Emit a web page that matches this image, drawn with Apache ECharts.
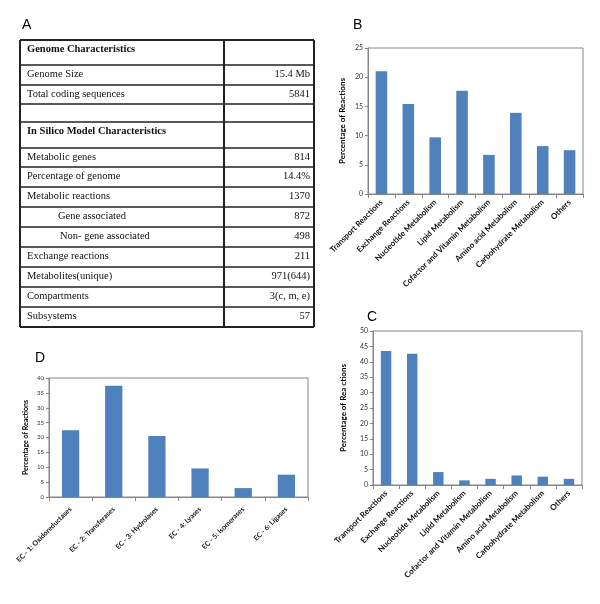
<!DOCTYPE html>
<html><head><meta charset="utf-8">
<script src="https://cdn.jsdelivr.net/npm/echarts@6/dist/echarts.min.js"></script>
<style>html,body{margin:0;padding:0;background:#fff}#c{width:600px;height:604px}</style>
</head><body><div id="c"></div>
<script>
// ---- data ----
const tableLabels = ['Genome Characteristics','Genome Size','Total coding sequences','','In Silico Model Characteristics','Metabolic genes','Percentage of genome','Metabolic reactions','Gene associated','Non- gene associated','Exchange reactions','Metabolites(unique)','Compartments','Subsystems'];
const tableValues = ['','15.4 Mb','5841','','','814','14.4%','1370','872','498','211','971(644)','3(c, m, e)','57'];
const boldRows = [0,4];
const indentRows = [8,9];

const subsysCats = ['Transport Reactions','Exchange Reactions','Nucleotide Metabolism','Lipid Metabolism','Cofactor and Vitamin Metabolism','Amino acid Metabolism','Carbohydrate Metabolism','Others'];
const valuesB = [21.0, 15.4, 9.7, 17.7, 6.7, 13.9, 8.2, 7.5];
const valuesC = [43.5, 42.6, 4.2, 1.5, 2.0, 3.1, 2.7, 2.0];
const ecCats = ['EC - 1: Oxidoreductases','EC - 2: Transferases','EC - 3: Hydrolases','EC - 4: Lyases','EC - 5: Isomerases','EC - 6: Ligases'];
const valuesD = [22.4, 37.4, 20.5, 9.6, 3.0, 7.5];

// ---- layout ----
const rowLines = [40,65,85,104,122,148,167,187,207,227,247,267,287,307,327];
const tL = 20, tR = 314, tMid = 224;
const BLUE = '#4F81BD';
const AX = '#868686';
const FONT = 'Lato, "Open Sans", sans-serif';

const graphics = [];
// panel letters
[['A',22,26],['B',353,26],['C',367,318],['D',35,359]].forEach(([t,x,y])=>{
  graphics.push({type:'text',left:x,top:y-8,style:{text:t,font:'14px "Liberation Sans", Arial, sans-serif',fill:'#000'}});
});
// table rows
for (let i=0;i<tableLabels.length;i++){
  const y0 = rowLines[i];
  const bold = boldRows.includes(i);
  const indent = indentRows.includes(i) ? (i===8?31:33) : 0;
  if (tableLabels[i]) graphics.push({type:'text',x:tL+7+indent,y:y0+9,style:{text:tableLabels[i],font:(bold?'bold ':'')+'10.5px "Liberation Serif", "Times New Roman", serif',fill:'#111',textVerticalAlign:'middle',textAlign:'left'}});
  if (tableValues[i]) graphics.push({type:'text',x:tR-4,y:y0+9,style:{text:tableValues[i],font:'10.5px "Liberation Serif", "Times New Roman", serif',fill:'#111',textVerticalAlign:'middle',textAlign:'right'}});
}
rowLines.forEach((y,i)=>{
  const w = (i===0||i===rowLines.length-1)?2:1.4;
  graphics.push({type:'line',shape:{x1:tL,y1:y,x2:tR,y2:y},style:{stroke:'#222',lineWidth:w}});
});
[tL,tMid,tR].forEach(x=>{
  graphics.push({type:'line',shape:{x1:x,y1:rowLines[0],x2:x,y2:rowLines[rowLines.length-1]},style:{stroke:'#222',lineWidth:2}});
});

function yAx(grid,max,fs,nameGap,nameFs,name){
  return {type:'value',gridIndex:grid,min:0,max:max,interval:5,
    name:name,nameLocation:'middle',nameGap:nameGap,
    nameTextStyle:{fontFamily:FONT,fontWeight:'bold',fontSize:nameFs,color:'#000'},
    axisLine:{show:true,lineStyle:{color:AX}},
    axisTick:{show:true,length:3,lineStyle:{color:AX}},
    axisLabel:{fontFamily:FONT,fontSize:fs,color:'#333',margin:5},
    splitLine:{show:false}};
}
function xAx(grid,cats,fs,margin){
  return {type:'category',gridIndex:grid,data:cats,boundaryGap:true,
    axisLine:{lineStyle:{color:AX}},
    axisTick:{show:true,length:4,alignWithLabel:false,lineStyle:{color:AX}},
    axisLabel:{rotate:45,interval:0,fontFamily:FONT,fontWeight:'bold',fontSize:fs,color:'#111',margin:margin}};
}
const gridStyle = {show:true,borderColor:AX,borderWidth:1,backgroundColor:'transparent'};

const option = {
  animation:false,
  backgroundColor:'#fff',
  grid:[
    Object.assign({left:368,top:48,width:215,height:146},gridStyle),
    Object.assign({left:373,top:331,width:209,height:154},gridStyle),
    Object.assign({left:49,top:378,width:259,height:119},gridStyle)
  ],
  xAxis:[xAx(0,subsysCats,8,7),xAx(1,subsysCats,8,7),xAx(2,ecCats,7,11)],
  yAxis:[yAx(0,25,7,22,8,'Percentage of Reactions'),yAx(1,50,7,26,8,'Percentage of Rea ctions'),yAx(2,40,6,20,7,'Percentage of Reactions')],
  series:[
    {type:'bar',xAxisIndex:0,yAxisIndex:0,data:valuesB,barWidth:'43%',itemStyle:{color:BLUE}},
    {type:'bar',xAxisIndex:1,yAxisIndex:1,data:valuesC,barWidth:'40%',itemStyle:{color:BLUE}},
    {type:'bar',xAxisIndex:2,yAxisIndex:2,data:valuesD,barWidth:'40%',itemStyle:{color:BLUE}}
  ],
  graphic:graphics
};
const chart = echarts.init(document.getElementById('c'),null,{renderer:'canvas'});
chart.setOption(option);
</script></body></html>
